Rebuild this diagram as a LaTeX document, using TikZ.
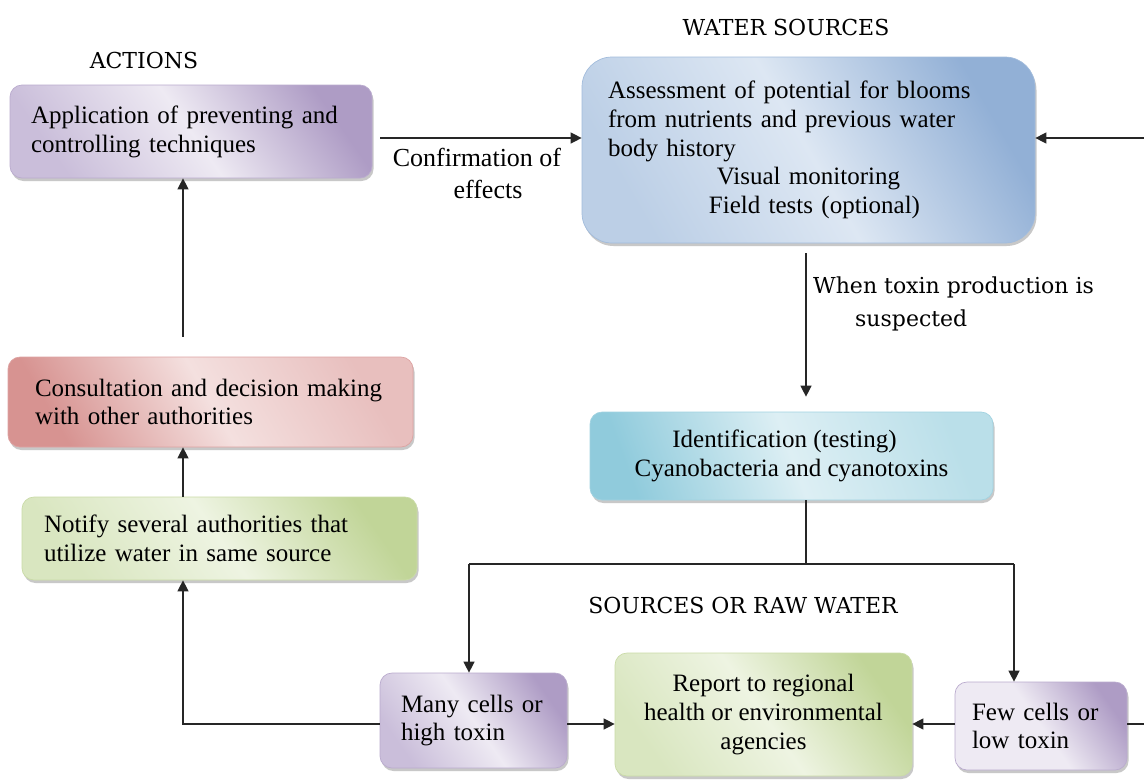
\documentclass[tikz,border=0pt]{standalone}
\usepackage{fontspec}
\setmainfont{Liberation Serif}
\newfontfamily\capfont{DejaVu Serif}
\usetikzlibrary{arrows.meta,shadows}

% colour families: dark / middle / light
\definecolor{purD}{HTML}{AE9CC5}\definecolor{purM}{HTML}{CABEDA}\definecolor{purL}{HTML}{EEEAF3}
\definecolor{bluD}{HTML}{92B0D6}\definecolor{bluM}{HTML}{BCCFE6}\definecolor{bluL}{HTML}{DDE7F3}
\definecolor{redD}{HTML}{D79391}\definecolor{redM}{HTML}{E8BFBE}\definecolor{redL}{HTML}{F4E0DF}
\definecolor{grnD}{HTML}{C1D598}\definecolor{grnM}{HTML}{D9E6C0}\definecolor{grnL}{HTML}{EEF4E2}
\definecolor{cyaD}{HTML}{90CBDC}\definecolor{cyaM}{HTML}{BADFE9}\definecolor{cyaL}{HTML}{DDEFF4}

\newcommand\bxfont{\fontsize{25}{28.8}\selectfont}
\newcommand\lblfont{\fontsize{26}{32}\selectfont}
\newcommand\capsfont{\capfont\fontsize{22}{33}\selectfont}

\tikzset{
  flowbox/.style={rounded corners=12pt, line width=0.7pt, inner xsep=0pt, inner ysep=0pt,
    align=left, font=\bxfont,
    drop shadow={shadow xshift=1.5pt, shadow yshift=-3pt, opacity=0.3, fill=black!70}},
  tint/.style n args={4}{draw=#1!85!white, left color=#2, right color=#1, middle color=#3,
    shading angle=#4},
  arr/.style={line width=1.3pt, draw=black!85, -{Triangle[length=11pt,width=11pt]}},
  plain/.style={line width=1.3pt, draw=black!85},
  title/.style={font=\capsfont, inner sep=0pt},
}

\begin{document}
\begin{tikzpicture}[x=1pt, y=-1pt]
\clip (0,0) rectangle (1144,780);
\fill[white] (0,0) rectangle (1144,780);

% titles
\node[title] (tWater) at (786,27) {WATER SOURCES};
\node[title] (tActions) at (144,60) {ACTIONS};
\node[title] (tRaw) at (743,605) {SOURCES OR RAW WATER};

% boxes
\node[flowbox, tint={purD}{purM}{purL}{125}, minimum width=362, minimum height=93,
      text width=320] (actions) at (191,131.5)
  {Application of preventing and\\ controlling techniques};

\node[flowbox, rounded corners=30pt, tint={bluD}{bluM}{bluL}{120}, minimum width=453,
      minimum height=186, text width=401] (water) at (808.5,150)
  {Assessment of potential for blooms\\ from nutrients and previous water\\ body history\\
   \makebox[\linewidth]{Visual monitoring}\\ \makebox[\linewidth]{\hspace*{12pt}Field tests (optional)}};

\node[flowbox, tint={redD}{redM}{redL}{-60}, minimum width=405, minimum height=90,
      text width=351] (consult) at (210.5,402)
  {Consultation and decision making\\ with other authorities};

\node[flowbox, tint={grnD}{grnM}{grnL}{125}, minimum width=395, minimum height=83,
      text width=351] (notify) at (219.5,538.5)
  {Notify several authorities that\\ utilize water in same source};

\node[flowbox, tint={cyaD}{cyaM}{cyaL}{-70}, minimum width=403, minimum height=88,
      align=center] (ident) at (791.5,456)
  {\hspace*{-14pt}Identification (testing)\\ Cyanobacteria and cyanotoxins};

\node[flowbox, tint={purD}{purM}{purL}{125}, minimum width=187, minimum height=95,
      text width=145] (many) at (473.5,720.5)
  {Many cells or\\ high toxin};

\node[flowbox, tint={grnD}{grnM}{grnL}{125}, minimum width=297, minimum height=123,
      align=center] (report) at (763.5,714.5)
  {Report to regional\\ health or environmental\\ agencies};

\node[flowbox, tint={purD}{purL}{purL}{125}, minimum width=172, minimum height=88,
      text width=138] (few) at (1041,726)
  {Few cells or\\ low toxin};

% reference coordinates for the connectors
\coordinate (lx) at (183,0);
\coordinate (cy) at (0,138);
\coordinate (mx) at (806,0);
\coordinate (jl) at (469,564);
\coordinate (jr) at (1014,564);
\coordinate (inR) at (1144,138);
\coordinate (outR) at (1144,724);

% connectors
\draw[arr, shorten <=8pt] (actions.east |- cy) -- (water.west |- cy)
  node[midway, below=6pt, font=\lblfont, align=center] (confirm) {Confirmation of\\ \hspace*{22pt}effects};
\draw[arr] (inR) -- (inR -| water.east);
\draw[arr, shorten <=10pt, shorten >=15pt] (water.south -| mx) -- (ident.north -| mx);
\node[font=\capsfont, align=left, anchor=north west, inner sep=0pt] (toxin) at (813,277)
  {When toxin production is\\ \hspace*{42pt}suspected};

\draw[plain] (ident.south -| mx) -- (mx |- jl);
\draw[plain] (jl) -- (jr);
\draw[arr] (jl) -- (jl |- many.north);
\draw[arr] (jr) -- (jr |- few.north);

\draw[arr] (many.east |- outR) -- (report.west |- outR);
\draw[arr] (few.west |- outR) -- (report.east |- outR);
\draw[plain] (few.east |- outR) -- (outR);

\draw[arr] (many.west |- outR) -- (lx |- outR) -- (notify.south -| lx);
\draw[arr] (notify.north -| lx) -- (consult.south -| lx);
\draw[arr, shorten <=20pt] (consult.north -| lx) -- (actions.south -| lx);
\end{tikzpicture}
\end{document}
